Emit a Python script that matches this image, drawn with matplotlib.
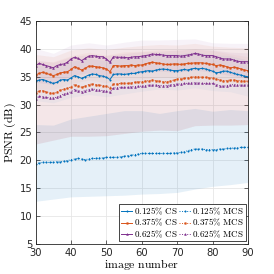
import numpy as np
import matplotlib
matplotlib.use('Agg')
import matplotlib.pyplot as plt

plt.rcParams['mathtext.fontset'] = 'cm'

# image numbers 30..90
imgs = list(range(30, 91))

cs_0125 = [34.2, 34.4, 34.5, 34.3, 34.0, 33.8, 34.0, 34.4, 34.5, 34.4,
           34.8, 35.2, 35.0, 34.7, 35.0, 35.3, 35.5, 35.4, 35.2, 35.1,
           34.9, 34.5, 35.4, 35.5, 35.5, 35.4, 35.5, 35.6, 35.6, 35.8,
           35.9, 36.0, 36.1, 36.0, 36.2, 36.3, 36.4, 36.3, 36.2, 36.1,
           36.1, 36.2, 36.3, 36.2, 36.4, 36.5, 36.4, 36.5, 36.4, 36.2,
           36.0, 35.7, 35.8, 36.0, 36.0, 35.8, 35.6, 35.4, 35.3, 35.1, 35.0]
cs_0375 = [35.3, 35.6, 35.8, 35.6, 35.4, 35.2, 35.4, 35.7, 35.8, 35.9,
           36.3, 36.8, 36.5, 36.2, 36.5, 36.9, 36.9, 36.8, 36.7, 36.6,
           36.4, 35.9, 37.0, 37.0, 36.9, 37.0, 37.0, 37.1, 37.0, 37.1,
           37.1, 37.3, 37.5, 37.6, 37.5, 37.4, 37.3, 37.2, 37.2, 37.3,
           37.3, 37.2, 37.3, 37.4, 37.4, 37.5, 37.5, 37.5, 37.4, 37.3,
           37.2, 37.0, 37.1, 37.0, 36.8, 36.6, 36.7, 36.6, 36.4, 36.2, 36.1]
cs_0625 = [37.0, 37.4, 37.2, 37.0, 36.8, 36.6, 37.0, 37.2, 37.3, 37.6,
           38.2, 38.5, 38.3, 37.9, 38.3, 38.7, 38.8, 38.7, 38.6, 38.6,
           38.2, 37.6, 38.6, 38.5, 38.5, 38.5, 38.4, 38.5, 38.6, 38.6,
           38.7, 38.8, 38.9, 39.1, 39.0, 39.0, 38.9, 38.8, 38.8, 38.8,
           38.8, 38.7, 38.8, 38.9, 39.0, 39.2, 39.1, 38.9, 38.8, 38.8,
           38.8, 38.6, 38.4, 38.2, 38.2, 38.2, 38.0, 37.8, 37.7, 37.7, 37.7]
mcs_0125 = [19.3, 19.5, 19.6, 19.6, 19.6, 19.6, 19.7, 19.7, 19.8, 19.9,
            20.1, 20.2, 20.3, 20.2, 20.1, 20.2, 20.3, 20.3, 20.4, 20.4,
            20.5, 20.5, 20.5, 20.5, 20.6, 20.7, 20.8, 20.9, 21.0, 21.1,
            21.2, 21.2, 21.2, 21.2, 21.2, 21.2, 21.2, 21.2, 21.2, 21.3,
            21.3, 21.4, 21.5, 21.7, 21.9, 22.0, 22.0, 22.0, 21.9, 21.9,
            21.9, 21.9, 22.0, 22.0, 22.1, 22.1, 22.2, 22.2, 22.3, 22.3, 22.3]
mcs_0375 = [32.0, 32.5, 32.5, 32.3, 32.1, 32.0, 32.2, 32.6, 32.8, 32.9,
            33.2, 33.6, 33.4, 33.1, 33.3, 33.6, 33.7, 33.6, 33.5, 33.4,
            33.3, 33.0, 33.7, 33.7, 33.8, 33.8, 33.8, 33.9, 34.0, 34.1,
            34.1, 34.2, 34.3, 34.4, 34.3, 34.2, 34.1, 34.1, 34.2, 34.4,
            34.6, 34.6, 34.7, 34.8, 34.9, 35.0, 35.0, 34.9, 34.9, 34.8,
            34.8, 34.6, 34.4, 34.3, 34.3, 34.4, 34.4, 34.3, 34.3, 34.2, 34.2]
mcs_0625 = [31.0, 31.5, 31.4, 31.3, 31.2, 31.2, 31.3, 31.6, 31.9, 32.0,
            32.3, 32.7, 32.5, 32.3, 32.5, 32.7, 32.8, 32.7, 32.6, 32.5,
            32.4, 32.2, 33.0, 33.0, 33.1, 33.1, 33.1, 33.2, 33.2, 33.3,
            33.3, 33.4, 33.5, 33.5, 33.5, 33.4, 33.4, 33.4, 33.5, 33.6,
            33.7, 33.7, 33.8, 33.8, 33.9, 33.9, 33.9, 33.8, 33.8, 33.8,
            33.8, 33.6, 33.4, 33.3, 33.4, 33.5, 33.6, 33.5, 33.5, 33.5, 33.5]

# spread bands, read every 5 images
band_x = [30, 35, 40, 45, 50, 55, 60, 65, 70, 75, 80, 85, 90]
mcs_0125_lo = [12.6, 13.0, 13.4, 13.5, 13.6, 13.7, 13.9, 14.0, 14.2, 14.8, 15.3, 15.6, 16.0]
mcs_0125_hi = [26.4, 26.3, 27.4, 27.9, 28.4, 28.9, 28.9, 28.4, 28.9, 29.3, 28.8, 29.1, 28.9]
mcs_hi_lo = [22.9, 23.6, 24.3, 24.3, 24.4, 24.8, 25.2, 25.4, 25.3, 26.2, 26.3, 26.3, 26.4]
mcs_0375_hi = [39.0, 38.6, 39.8, 40.2, 39.9, 40.3, 40.6, 40.8, 40.7, 41.0, 40.5, 40.3, 40.2]
mcs_0625_hi = [38.0, 37.6, 38.6, 39.0, 38.8, 39.2, 39.5, 39.6, 39.8, 40.0, 39.8, 39.4, 39.3]
cs_0125_lo = [30.7, 30.3, 31.3, 31.8, 31.4, 31.9, 32.4, 32.8, 32.6, 33.0, 32.5, 32.3, 31.5]
cs_0125_hi = [37.2, 36.8, 37.8, 38.3, 37.9, 38.4, 38.9, 39.3, 39.1, 39.5, 39.0, 38.8, 38.0]
cs_0375_lo = [32.8, 32.7, 33.8, 34.4, 33.9, 34.5, 34.6, 34.9, 34.8, 35.0, 34.7, 34.1, 33.6]
cs_0375_hi = [37.8, 37.7, 38.8, 39.4, 38.9, 39.5, 39.6, 39.9, 39.8, 40.0, 39.7, 39.1, 38.6]
cs_0625_lo = [34.0, 33.6, 35.2, 35.7, 35.0, 35.5, 35.7, 36.0, 35.8, 36.2, 35.8, 35.2, 34.7]
cs_0625_hi = [40.1, 39.2, 40.7, 41.1, 40.7, 41.2, 41.6, 41.6, 41.7, 41.8, 41.1, 41.0, 41.0]

blue = '#0072BD'
orange = '#D95319'
purple = '#7E2F8E'

fig = plt.figure(figsize=(2.74, 2.74), dpi=100)
ax = fig.add_axes([0.130, 0.111, 0.775, 0.812])

ax.fill_between(band_x, mcs_0125_lo, mcs_0125_hi, color=blue, alpha=0.1, lw=0)
ax.fill_between(band_x, mcs_hi_lo, mcs_0375_hi, color=orange, alpha=0.07, lw=0)
ax.fill_between(band_x, mcs_hi_lo, mcs_0625_hi, color=purple, alpha=0.06, lw=0)
ax.fill_between(band_x, cs_0125_lo, cs_0125_hi, color=blue, alpha=0.04, lw=0)
ax.fill_between(band_x, cs_0375_lo, cs_0375_hi, color=orange, alpha=0.04, lw=0)
ax.fill_between(band_x, cs_0625_lo, cs_0625_hi, color=purple, alpha=0.06, lw=0)

lw = 0.7
mew = 0.4
ax.plot(imgs, cs_0125, '-', color=blue, marker='.', ms=2, mew=mew, lw=lw, label=r'$\mathrm{0.125\%\ CS}$')
ax.plot(imgs, cs_0375, '-', color=orange, marker='s', ms=1.1, mew=mew, lw=lw, label=r'$\mathrm{0.375\%\ CS}$')
ax.plot(imgs, cs_0625, '-', color=purple, marker='^', ms=1.3, mew=mew, lw=lw, label=r'$\mathrm{0.625\%\ CS}$')
ax.plot(imgs, mcs_0125, ':', color=blue, marker='.', ms=2, mew=mew, lw=lw, label=r'$\mathrm{0.125\%\ MCS}$')
ax.plot(imgs, mcs_0375, ':', color=orange, marker='s', ms=1.1, mew=mew, lw=lw, label=r'$\mathrm{0.375\%\ MCS}$')
ax.plot(imgs, mcs_0625, ':', color=purple, marker='^', ms=1.3, mew=mew, lw=lw, label=r'$\mathrm{0.625\%\ MCS}$')

ax.set_xlim(30, 90)
ax.set_ylim(5, 45)
ax.set_xticks(range(30, 91, 10))
ax.set_yticks(range(5, 46, 5))
ax.grid(True, color='#e6e6e6', lw=0.6)
ax.set_axisbelow(True)
ax.tick_params(direction='in', top=True, right=True, length=3, width=0.5,
               labelsize=7.2, colors='#262626')
ax.tick_params(axis='x', pad=3.2)
ax.tick_params(axis='y', pad=2.5)
for s in ax.spines.values():
    s.set_linewidth(0.6)
    s.set_color('#262626')

ax.set_xlabel(r'$\mathrm{image\ number}$', fontsize=8.5, labelpad=-0.5)
ax.set_ylabel(r'$\mathrm{PSNR\ (dB)}$', fontsize=8.5, labelpad=1)

leg = ax.legend(loc='lower right', ncol=2, fontsize=6.5, frameon=True, fancybox=False,
                edgecolor='#262626', framealpha=1, borderaxespad=0.25, borderpad=0.15,
                handlelength=1.3, handletextpad=0.15, columnspacing=0.2, labelspacing=0.05)
leg.get_frame().set_linewidth(0.6)

fig.savefig('out.png', dpi=100)
